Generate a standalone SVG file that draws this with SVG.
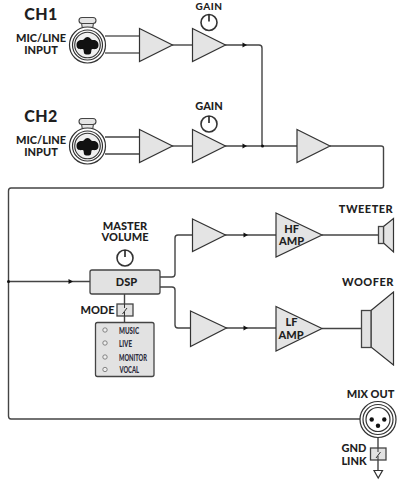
<svg xmlns="http://www.w3.org/2000/svg" width="418" height="487" viewBox="0 0 418 487">
<style>
text{font-family:Lato,"Liberation Sans",sans-serif;font-weight:900;fill:#1f1f1f;text-anchor:middle}
.l{font-size:11px}.c{font-size:16px;letter-spacing:.5px}.s{font-size:8.500px;text-anchor:start;fill:#2a2a3a}
.t{font-size:11px;letter-spacing:.5px}
.w{fill:none;stroke:#444;stroke-width:1.4;stroke-linejoin:round}
.g{fill:#e4e4e4;stroke:#333;stroke-width:1.2;stroke-linejoin:miter}
.k{fill:#fff;stroke:#333;stroke-width:1.2}
.b{fill:#111;stroke:none}
.r{fill:#e2e2e2;stroke:#444;stroke-width:1.3}
</style>
<defs>
<polygon id="ar" class="b" points="-2.500,-2.500 2,0 -2.500,2.500"/>
<g id="jack">
<path d="M-6,-22L-5,-16H5L6,-22Z" fill="#e4e4e4" stroke="#444" stroke-width="1.100"/>
<rect x="-8.500" y="-27.500" width="17" height="6" rx="3" fill="#e4e4e4" stroke="#444" stroke-width="1.100"/>
<circle r="18" class="k"/><circle r="15" class="k"/><circle r="12.800" fill="#f0f0f0" stroke="#333" stroke-width="1.100"/>
<path d="M-11,0C-11,-4 -8,-5.500 -5,-5C-3,-5 -3,-8 0,-8C3,-8 3,-5 5,-5C8,-5.500 11,-4 11,0C11,4 8,4.500 5,4C3.500,4 4,6 3.500,8C3,10 -3,10 -3.500,8C-4,6 -3.500,4 -5,4C-8,4.500 -11,4 -11,0Z" fill="#111"/>
</g>
<g id="knob"><circle r="8" fill="#fff" stroke="#333" stroke-width="1.600"/><path d="M0,-8V-1" stroke="#222" stroke-width="1.600"/></g>
</defs>

<g id="connectors">
<path class="w" d="M105,36H139M105,53H139" stroke-opacity=".85"/>
<path class="w" d="M172,45H192"/>
<path class="w" d="M225,45H259Q262,45 262,48V146"/>
<path class="w" d="M105,137H139M105,154H139"/>
<path class="w" d="M172,146H192"/>
<path class="w" d="M225,146H297"/>
<path class="w" d="M330,146H381Q383.500,146 383.500,148V186Q383.500,188 381,188H11Q8.500,188 8.500,191V416Q8.500,419 11,419H360"/>
<path class="w" d="M8.500,281.500H90"/>
<path class="w" d="M160,277H172Q175,277 175,274V238Q175,235 178,235H192"/>
<path class="w" d="M160,287H172Q175,287 175,290V325Q175,328 178,328H191"/>
<path class="w" d="M225,235H276"/>
<path class="w" d="M226,328H276"/>
<path class="w" d="M322,235H378"/>
<path class="w" d="M322,328.500H361"/>
<path class="w" d="M124.500,294V322"/>
<path class="w" d="M378,437V470"/>
<use href="#ar" x="245" y="45"/><use href="#ar" x="245" y="146"/><use href="#ar" x="71" y="281.500"/>
<use href="#ar" x="246" y="235"/><use href="#ar" x="246" y="328"/>
<circle class="b" cx="262.500" cy="146" r="1.500"/><circle class="b" cx="8.500" cy="281.500" r="1.500"/>
</g>

<g id="ch1-label"><text class="c" x="41" y="19.500">CH1</text><text class="l" x="41" y="42">MIC/LINE</text><text class="l" x="41" y="54">INPUT</text></g>
<g id="ch1-jack"><use href="#jack" x="87.500" y="45"/></g>
<g id="ch1-preamp"><polygon class="g" points="139.500,28.500 172.500,45 139.500,61.500"/></g>
<g id="ch1-gain"><text x="209" y="10" style="font-size:10px;letter-spacing:.5px">GAIN</text><use href="#knob" x="209" y="22.500"/><polygon class="g" points="192.500,28.500 225.500,45 192.500,61.500"/></g>

<g id="ch2-label"><text class="c" x="41" y="121.500">CH2</text><text class="l" x="41" y="144">MIC/LINE</text><text class="l" x="41" y="156">INPUT</text></g>
<g id="ch2-jack"><use href="#jack" x="87.500" y="146"/></g>
<g id="ch2-preamp"><polygon class="g" points="139.500,129.500 172.500,146 139.500,162.500"/></g>
<g id="ch2-gain"><text class="l" x="209" y="110">GAIN</text><use href="#knob" x="209" y="124"/><polygon class="g" points="192.500,129.500 225.500,146 192.500,162.500"/></g>

<g id="sum-amp"><polygon class="g" points="297,129.500 330,146 297,162.500"/></g>

<g id="master-volume"><text class="l" x="125" y="229.500">MASTER</text><text class="l" x="125" y="241">VOLUME</text><use href="#knob" x="125" y="258"/></g>
<g id="dsp"><rect class="r" x="90" y="270" width="70" height="24" rx="2"/><text class="l" x="126.500" y="286">DSP</text></g>
<g id="mode"><text class="l" x="97.500" y="313.500">MODE</text>
<rect class="r" x="117" y="304" width="16" height="12" stroke-width="1"/>
<path d="M124.500,304V308M127,308L122.500,314M124.500,312V316" fill="none" stroke="#333" stroke-width="1"/></g>
<g id="mode-panel"><rect class="r" x="95.500" y="322.500" width="58.500" height="54" rx="2"/>
<g fill="#eee" stroke="#777" stroke-width=".9"><circle cx="105" cy="330" r="2.200"/><circle cx="105" cy="343" r="2.200"/><circle cx="105" cy="357" r="2.200"/><circle cx="105" cy="369.500" r="2.200"/></g>
<text class="s" x="119" y="334" textLength="20" lengthAdjust="spacingAndGlyphs">MUSIC</text><text class="s" x="119" y="346.500" textLength="13" lengthAdjust="spacingAndGlyphs">LIVE</text><text class="s" x="119" y="360.500" textLength="28" lengthAdjust="spacingAndGlyphs">MONITOR</text><text class="s" x="119.500" y="372.500" textLength="19.500" lengthAdjust="spacingAndGlyphs">VOCAL</text></g>

<g id="hf-driver"><polygon class="g" points="192.500,219 225.500,235 192.500,251.500"/></g>
<g id="hf-amp"><polygon class="g" points="276,213 322,235 276,257"/><text class="l" x="291.500" y="233">HF</text><text class="l" x="291.500" y="245">AMP</text></g>
<g id="tweeter"><text class="t" x="366" y="213">TWEETER</text><polygon class="g" points="383.500,226.500 393.500,218.500 393.500,252 383.500,243"/><rect class="r" x="378.500" y="226.500" width="5" height="17"/></g>

<g id="lf-driver"><polygon class="g" points="190.500,311 226.500,328 190.500,346.500"/></g>
<g id="lf-amp"><polygon class="g" points="276,306.500 322,328.500 276,351"/><text class="l" x="291.500" y="326">LF</text><text class="l" x="291" y="339">AMP</text></g>
<g id="woofer"><text class="t" x="368" y="286">WOOFER</text><polygon class="g" points="371,310.500 393.500,292 393.500,365 371,347"/><rect class="r" x="361.500" y="310.500" width="9.500" height="37"/></g>

<g id="mix-out"><text class="l" x="370.500" y="397.500">MIX OUT</text>
<circle cx="378" cy="419.500" r="18" class="k"/><circle cx="378" cy="419.500" r="15" class="k"/><circle cx="378" cy="419.500" r="12" class="k"/>
<circle class="b" cx="371.700" cy="419.500" r="2.200"/><circle class="b" cx="384.300" cy="419.500" r="2.200"/><circle class="b" cx="378" cy="425.700" r="2.200"/></g>
<g id="gnd-link"><text class="l" x="354" y="452">GND</text><text class="l" x="354" y="465">LINK</text>
<rect class="r" x="370.500" y="448" width="15.500" height="12" stroke-width="1"/>
<path d="M378,448V452M380.500,452L376,458M378,456V460" fill="none" stroke="#333" stroke-width="1"/>
<polygon points="374,470.500 382.500,470.500 378.200,478" fill="#fff" stroke="#333" stroke-width="1.200"/></g>
</svg>
